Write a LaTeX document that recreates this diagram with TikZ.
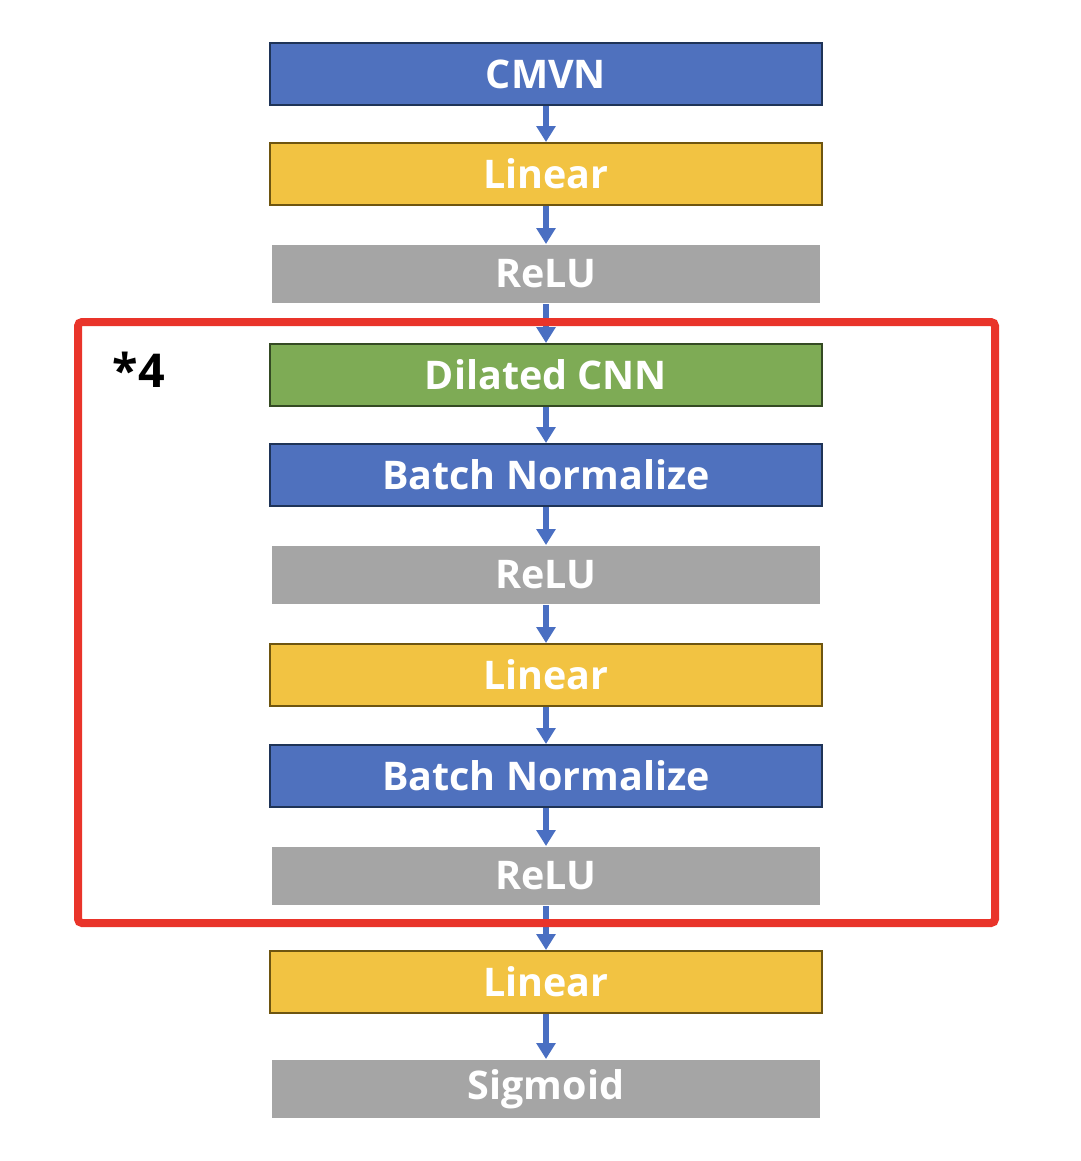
\documentclass[tikz,border=0pt]{standalone}
\usepackage{fontspec}
\setmainfont{Open Sans}
\usetikzlibrary{arrows.meta}
\definecolor{cblue}{HTML}{4F71BE}
\definecolor{cblueb}{HTML}{1F3457}
\definecolor{cyellow}{HTML}{F2C342}
\definecolor{cyellowb}{HTML}{6E5510}
\definecolor{cgray}{HTML}{A5A5A5}
\definecolor{cgreen}{HTML}{7EAB55}
\definecolor{cgreenb}{HTML}{344A23}
\definecolor{cred}{HTML}{E9342A}
\definecolor{carrow}{HTML}{4A6FC2}
\tikzset{
  blk/.style={minimum width=414pt, minimum height=46.5pt, inner sep=0pt, line width=1.5pt, text=white, font=\fontsize{29.6}{34}\selectfont\bfseries},
  bluebox/.style={blk, fill=cblue, draw=cblueb},
  yellowbox/.style={blk, fill=cyellow, draw=cyellowb},
  greenbox/.style={blk, fill=cgreen, draw=cgreenb},
  graybox/.style={blk, fill=cgray, draw=none, minimum width=411pt, minimum height=43.5pt},
  flow/.style={draw=carrow, line width=4.5pt, -{Triangle[width=14pt,length=12pt]}, shorten >=0pt},
  loopbox/.style={draw=cred, line width=6pt, rounded corners=3pt}
}
\begin{document}
\begin{tikzpicture}[x=0.75pt,y=-0.75pt]
\useasboundingbox (0,0) rectangle (1081,1161);
\node[bluebox]   (n1)  at (546,74)   {CMVN};
\node[yellowbox] (n2)  at (546,174)  {Linear};
\node[graybox]   (n3)  at (546,274)  {ReLU};
\node[greenbox]  (n4)  at (546,375)  {Dilated CNN};
\node[bluebox]   (n5)  at (546,475)  {Batch Normalize};
\node[graybox]   (n6)  at (546,575)  {ReLU};
\node[yellowbox] (n7)  at (546,675)  {Linear};
\node[bluebox]   (n8)  at (546,776)  {Batch Normalize};
\node[graybox]   (n9)  at (546,876)  {ReLU};
\node[yellowbox] (n10) at (546,982)  {Linear};
\node[graybox]   (n11) at (546,1089) {Sigmoid};
\foreach \a/\b in {n1/n2,n2/n3,n3/n4,n4/n5,n5/n6,n6/n7,n7/n8,n8/n9,n9/n10,n10/n11}
  \draw[flow] (\a.south) -- (\b.north);
\draw[loopbox] (78,322) rectangle (995,923);
\node[font=\fontsize{35}{40}\selectfont\bfseries, text=black, inner sep=0pt] (rep) at (139,370) {*4};
\end{tikzpicture}
\end{document}
